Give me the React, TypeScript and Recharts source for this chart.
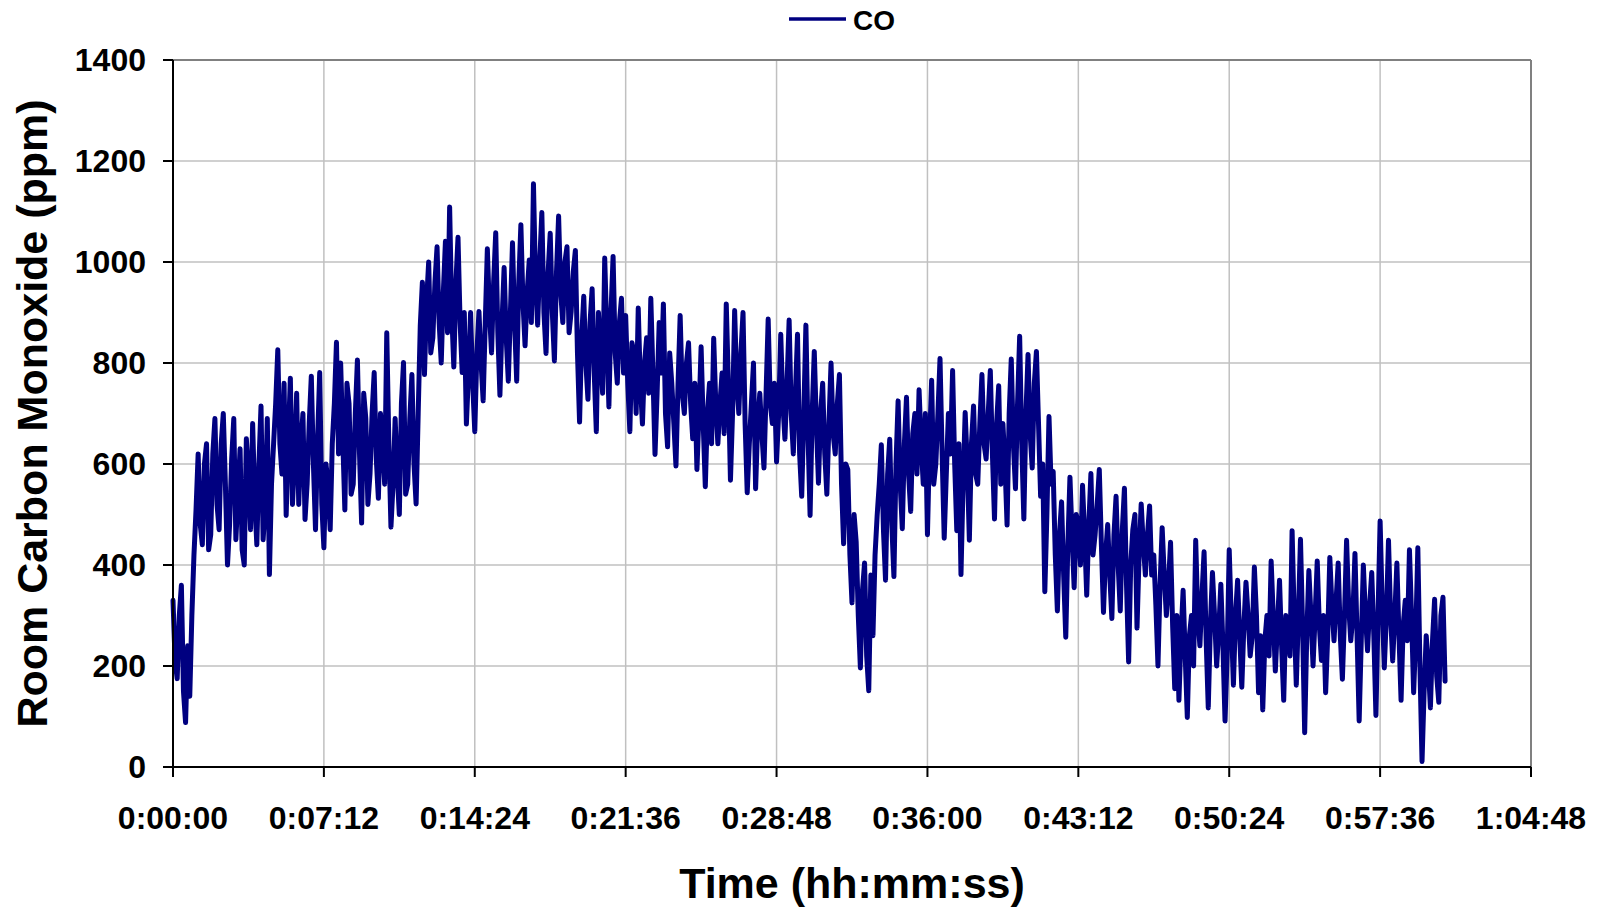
import React from 'react';
import { LineChart, Line, XAxis, YAxis, CartesianGrid, Legend, ReferenceLine, Label } from 'recharts';

// one reading every 6 s (two minutes per row)
const SAMPLE_SECONDS = 6;

const coPpm = [
  330, 210, 175, 300, 360, 150, 88, 240, 140, 300, 420, 510, 620, 480, 440, 600, 640, 430, 460, 620,
  690, 520, 470, 640, 700, 560, 400, 480, 610, 690, 450, 540, 630, 430, 400, 650, 580, 470, 680, 530,
  440, 600, 715, 450, 520, 690, 381, 560, 640, 720, 826, 640, 580, 760, 498, 650, 770, 520, 610, 740,
  520, 640, 700, 490, 560, 680, 774, 600, 470, 650, 781, 520, 434, 600, 560, 470, 640, 720, 841, 620,
  800, 650, 509, 760, 720, 540, 560, 700, 806, 620, 483, 740, 690, 520, 580, 700, 781, 610, 532, 700,
  640, 560, 860, 640, 475, 560, 690, 580, 500, 720, 801, 540, 560, 690, 777, 600, 521, 700, 875, 960,
  777, 920, 1000, 820, 850, 960, 1030, 880, 800, 940, 1041, 860, 1109, 900, 792, 960, 1049, 880, 781, 900,
  679, 780, 900, 760, 664, 820, 902, 800, 725, 880, 1026, 900, 820, 960, 1058, 860, 736, 880, 989, 850,
  764, 900, 1038, 880, 764, 960, 1074, 920, 834, 940, 1004, 880, 1155, 960, 875, 1000, 1098, 900, 819, 980,
  1057, 900, 804, 980, 1091, 940, 880, 1000, 1030, 860, 902, 980, 1023, 820, 683, 850, 932, 800, 728, 880,
  947, 780, 664, 900, 820, 740, 1008, 860, 713, 900, 1011, 820, 760, 880, 928, 780, 894, 760, 664, 840,
  820, 700, 909, 760, 679, 800, 850, 740, 928, 780, 619, 740, 880, 780, 917, 700, 634, 820, 760, 680,
  596, 760, 894, 740, 700, 800, 840, 720, 650, 760, 589, 700, 832, 680, 555, 700, 760, 640, 849, 720,
  640, 720, 780, 660, 917, 760, 568, 700, 904, 760, 700, 820, 900, 680, 543, 640, 720, 800, 551, 680,
  740, 660, 592, 740, 887, 720, 680, 760, 604, 700, 857, 720, 649, 760, 885, 700, 620, 740, 857, 620,
  536, 700, 875, 660, 498, 700, 823, 680, 562, 700, 760, 620, 540, 680, 800, 660, 620, 720, 777, 560,
  442, 600, 589, 420, 325, 500, 445, 300, 196, 350, 404, 220, 151, 380, 260, 420, 498, 560, 638, 470,
  370, 580, 649, 480, 377, 600, 725, 560, 472, 640, 732, 580, 506, 660, 700, 580, 747, 640, 560, 700,
  460, 640, 766, 560, 600, 700, 809, 620, 453, 580, 700, 620, 785, 600, 468, 640, 381, 560, 702, 600,
  449, 640, 715, 580, 560, 680, 777, 640, 610, 700, 785, 620, 491, 680, 755, 560, 680, 600, 479, 700,
  808, 640, 551, 720, 853, 640, 491, 700, 817, 660, 592, 760, 823, 680, 536, 600, 347, 500, 694, 560,
  585, 420, 309, 460, 525, 380, 257, 440, 574, 460, 355, 500, 480, 400, 558, 460, 340, 480, 581, 420,
  460, 520, 589, 440, 306, 420, 480, 380, 294, 460, 536, 400, 309, 470, 552, 360, 208, 400, 470, 500,
  275, 420, 521, 440, 380, 460, 517, 380, 420, 320, 200, 360, 474, 380, 300, 360, 445, 280, 155, 300,
  132, 260, 350, 220, 98, 260, 300, 200, 449, 300, 240, 340, 426, 250, 117, 280, 385, 300, 200, 270,
  362, 240, 91, 220, 430, 290, 162, 300, 370, 260, 158, 280, 366, 300, 220, 260, 396, 300, 147, 260,
  113, 250, 300, 220, 408, 300, 190, 280, 370, 240, 132, 300, 280, 220, 468, 300, 162, 300, 451, 280,
  68, 260, 389, 300, 200, 300, 408, 280, 211, 300, 147, 260, 415, 320, 250, 330, 404, 260, 174, 300,
  449, 320, 250, 300, 423, 260, 91, 250, 400, 300, 230, 320, 385, 260, 102, 300, 487, 320, 196, 300,
  449, 300, 210, 300, 404, 260, 132, 280, 330, 250, 430, 300, 147, 260, 434, 200, 11, 150, 260, 200,
  117, 250, 332, 180, 128, 300, 336, 170,
];

const xTicks = [0, 432, 864, 1296, 1728, 2160, 2592, 3024, 3456, 3888];
const yTicks = [0, 200, 400, 600, 800, 1000, 1200, 1400];

const data = coPpm.map((v, i) => ({ t: i * SAMPLE_SECONDS, CO: v }));

const font = '"Liberation Sans", Arial, Helvetica, sans-serif';

function hms(sec: number) {
  const h = Math.floor(sec / 3600);
  const m = Math.floor((sec % 3600) / 60);
  const s = sec % 60;
  return `${h}:${String(m).padStart(2, '0')}:${String(s).padStart(2, '0')}`;
}

function LegendBox() {
  return (
    <svg width={120} height={40}>
      <line x1={0} y1={19} x2={57} y2={19} stroke="#000080" strokeWidth={3.5} />
      <text x={64} y={29.5} fontFamily={font} fontWeight="bold" fontSize={28} fill="#000">CO</text>
    </svg>
  );
}

export default function App() {
  const tickStyle = { fill: '#000', fontSize: 32, fontWeight: 'bold', fontFamily: font };
  return (
    <div style={{ position: 'absolute', left: 0, top: 0, width: 1604, height: 911, background: '#fff' }}>
      <LineChart width={1604} height={911} data={data} margin={{ top: 60, right: 73, bottom: 44, left: 0 }}>
        <CartesianGrid stroke="#c0c0c0" strokeWidth={1.5} />
        <XAxis
          dataKey="t"
          type="number"
          domain={[0, 3888]}
          ticks={xTicks}
          interval={0}
          tickFormatter={hms}
          height={100}
          tickSize={10}
          tickMargin={29}
          tick={tickStyle}
          axisLine={{ stroke: '#000', strokeWidth: 2 }}
          tickLine={{ stroke: '#000', strokeWidth: 2 }}
        >
          <Label value="Time (hh:mm:ss)" position="bottom" offset={0}
            style={{ fontSize: 43, fontWeight: 'bold', fontFamily: font, fill: '#000' }} />
        </XAxis>
        <YAxis
          type="number"
          domain={[0, 1400]}
          ticks={yTicks}
          interval={0}
          width={173}
          tickSize={10}
          tickMargin={17}
          tick={tickStyle}
          axisLine={{ stroke: '#000', strokeWidth: 2 }}
          tickLine={{ stroke: '#000', strokeWidth: 2 }}
        >
          <Label value="Room Carbon Monoxide (ppm)" position="insideLeft" offset={32} angle={-90}
            style={{ textAnchor: 'middle', fontSize: 43, fontWeight: 'bold', fontFamily: font, fill: '#000' }} />
        </YAxis>
        <ReferenceLine y={1400} stroke="#808080" strokeWidth={2} />
        <ReferenceLine x={3888} stroke="#808080" strokeWidth={2} />
        <Legend
          verticalAlign="middle"
          align="center"
          content={() => <LegendBox />}
          wrapperStyle={{ top: 0, left: 789, width: 120, height: 40 }}
        />
        <Line
          type="linear"
          dataKey="CO"
          name="CO"
          stroke="#000080"
          strokeWidth={5}
          strokeLinejoin="round"
          strokeLinecap="round"
          dot={false}
          isAnimationActive={false}
        />
      </LineChart>
    </div>
  );
}
